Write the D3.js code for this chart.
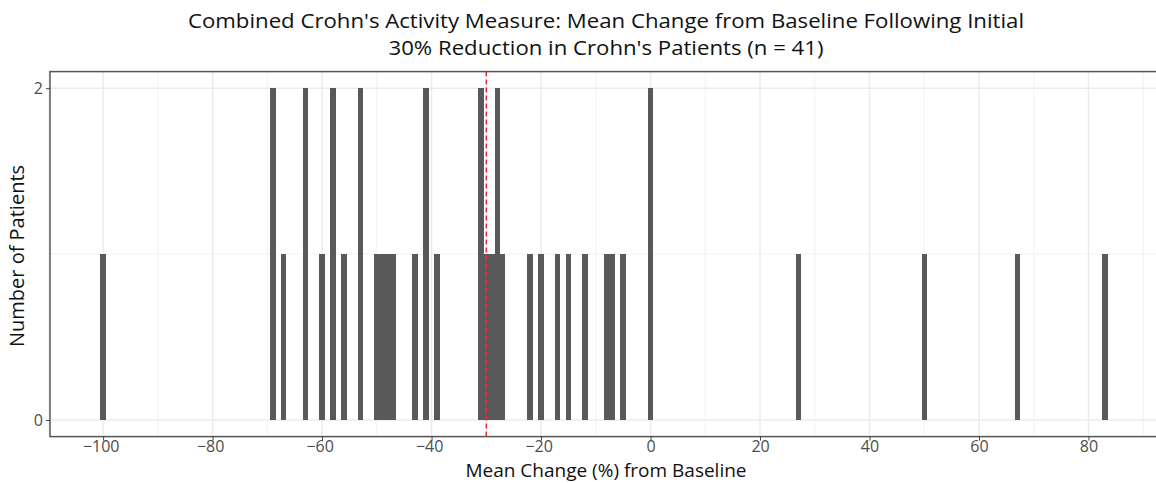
<!DOCTYPE html>
<html><head><meta charset="utf-8">
<script src="https://cdn.jsdelivr.net/npm/d3@7"></script>
<style>body{margin:0;background:#fff}</style>
</head><body><svg id="c" width="1156" height="483"></svg>
<script>
const binValues = [-100,-69,-67,-63,-60,-58,-56,-53,-50,-49,-48,-47,-43,-41,-39,-31,-30,-29,-28,-27,-22,-20,-17,-15,-12,-8,-7,-5,0,27,50,67,83];
const binCounts = [1,2,1,2,1,2,1,2,1,1,1,1,1,2,1,2,1,1,2,1,1,1,1,1,1,1,1,1,2,1,1,1,1];
const xTicks = [-100,-80,-60,-40,-20,0,20,40,60,80];
const xMinor = [-110,-90,-70,-50,-30,-10,10,30,50,70,90];
const yTicks = [0,2];
const yMinor = [1];
const refLine = -30;
const titleLines = ["Combined Crohn's Activity Measure: Mean Change from Baseline Following Initial","30% Reduction in Crohn's Patients (n = 41)"];
const xTitle = "Mean Change (%) from Baseline";
const yTitle = "Number of Patients";

const svg = d3.select("#c");
const x = d3.scaleLinear().domain([-109.7, 92.7]).range([50, 1158]);
const y = d3.scaleLinear().domain([-0.1, 2.1]).range([436.6, 71.6]);
const [px0, px1] = x.range();
const [py0, py1] = y.range();

// gridlines
const g = svg.append("g");
g.selectAll(".vmin").data(xMinor).join("line").attr("x1", d=>x(d)).attr("x2", d=>x(d)).attr("y1", py1).attr("y2", py0).attr("stroke", "#f2f2f2").attr("stroke-width", 1);
g.selectAll(".hmin").data(yMinor).join("line").attr("x1", px0).attr("x2", px1).attr("y1", d=>y(d)).attr("y2", d=>y(d)).attr("stroke", "#f2f2f2").attr("stroke-width", 1);
g.selectAll(".vmaj").data(xTicks).join("line").attr("x1", d=>x(d)).attr("x2", d=>x(d)).attr("y1", py1).attr("y2", py0).attr("stroke", "#ebebeb").attr("stroke-width", 1.5);
g.selectAll(".hmaj").data(yTicks).join("line").attr("x1", px0).attr("x2", px1).attr("y1", d=>y(d)).attr("y2", d=>y(d)).attr("stroke", "#ebebeb").attr("stroke-width", 1.5);

// bars
svg.append("g").attr("shape-rendering", "crispEdges")
  .selectAll("rect").data(binValues.map((v,i)=>({v, c: binCounts[i]}))).join("rect")
  .attr("x", d=>Math.round(x(d.v-0.5))).attr("width", d=>Math.round(x(d.v+0.5))-Math.round(x(d.v-0.5)))
  .attr("y", d=>Math.round(y(d.c))).attr("height", d=>Math.round(y(0))-Math.round(y(d.c)))
  .attr("fill", "#595959");

// reference line
svg.append("line").attr("x1", x(refLine)).attr("x2", x(refLine)).attr("y1", py1).attr("y2", py0)
  .attr("stroke", "#ee2a2a").attr("stroke-width", 1.5).attr("stroke-dasharray", "5,3");

// panel border (right edge lies beyond the picture)
svg.append("rect").attr("x", px0).attr("y", py1).attr("width", px1-px0+4).attr("height", py0-py1)
  .attr("fill", "none").attr("stroke", "#555").attr("stroke-width", 1.5);

// axes
const xAxis = svg.append("g").attr("transform", `translate(0,${py0})`)
  .call(d3.axisBottom(x).tickValues(xTicks).tickSize(4).tickPadding(2).tickFormat(d3.format("d")));
const yAxis = svg.append("g").attr("transform", `translate(${px0},0)`)
  .call(d3.axisLeft(y).tickValues(yTicks).tickSize(4).tickPadding(3).tickFormat(d3.format("d")));
[xAxis, yAxis].forEach(a => {
  a.select(".domain").remove();
  a.selectAll(".tick line").attr("stroke", "#444");
  a.selectAll(".tick text").attr("fill", "#4d4d4d").style("font-family", "'Open Sans', sans-serif").style("font-size", "16px");
});
xAxis.selectAll(".tick text").attr("dy", "0.6em");
xAxis.selectAll(".tick text").filter(d => d < 0).attr("dx", "-0.15em");

// titles
const t = svg.append("text").attr("text-anchor", "middle").attr("fill", "#111")
  .style("font-family", "'Open Sans', sans-serif").style("font-size", "20px");
t.append("tspan").attr("x", 606).attr("y", 28).attr("textLength", 836).attr("lengthAdjust", "spacingAndGlyphs").text(titleLines[0]);
t.append("tspan").attr("x", 606).attr("y", 55).attr("textLength", 435).attr("lengthAdjust", "spacingAndGlyphs").text(titleLines[1]);

svg.append("text").attr("x", 606).attr("y", 477).attr("text-anchor", "middle").attr("fill", "#111")
  .style("font-family", "'Open Sans', sans-serif").style("font-size", "19px").text(xTitle);
svg.append("text").attr("transform", "translate(24,256) rotate(-90)").attr("text-anchor", "middle").attr("fill", "#111")
  .style("font-family", "'Open Sans', sans-serif").style("font-size", "20px").text(yTitle);
</script></body></html>
